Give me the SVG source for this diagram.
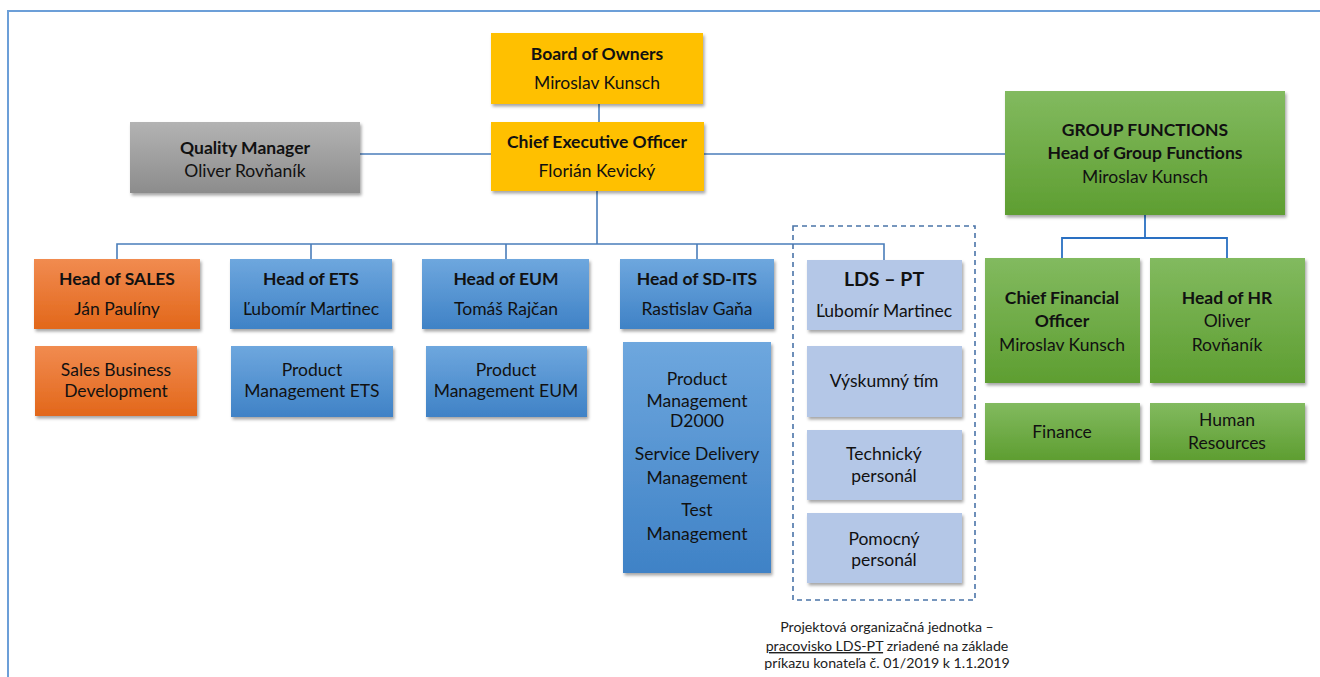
<svg xmlns="http://www.w3.org/2000/svg" width="1320" height="677" viewBox="0 0 1320 677">
<defs>
<linearGradient id="gGray" x1="0" y1="0" x2="0" y2="1"><stop offset="0" stop-color="#b3b3b3"/><stop offset="1" stop-color="#8c8c8c"/></linearGradient>
<linearGradient id="gOrange" x1="0" y1="0" x2="0" y2="1"><stop offset="0" stop-color="#f18b50"/><stop offset="1" stop-color="#e2671a"/></linearGradient>
<linearGradient id="gBlue" x1="0" y1="0" x2="0" y2="1"><stop offset="0" stop-color="#6ea7de"/><stop offset="1" stop-color="#3f82c6"/></linearGradient>
<linearGradient id="gGreen" x1="0" y1="0" x2="0" y2="1"><stop offset="0" stop-color="#82ba5f"/><stop offset="1" stop-color="#5e9e31"/></linearGradient>
<filter id="sh" x="-10%" y="-10%" width="125%" height="135%">
<feDropShadow dx="1.5" dy="2.5" stdDeviation="1.5" flood-color="#000" flood-opacity="0.35"/>
</filter>
</defs>
<style>
text{font-family:Lato,"Liberation Sans",sans-serif;font-size:17.5px;fill:#111;text-anchor:middle}
.b{font-weight:bold}
.box{filter:url(#sh)}
.yel{fill:#ffc000}
.gray{fill:url(#gGray)}
.org{fill:url(#gOrange)}
.blu{fill:url(#gBlue)}
.lb{fill:#b4c7e7}
.grn{fill:url(#gGreen)}
.con{stroke:#4a7dba;stroke-width:1.6;fill:none}
.con2{stroke:#2a70c2;stroke-width:1.8;fill:none}
.note{font-size:14.2px;fill:#222}
</style>
<rect width="1320" height="677" fill="#fff"/>
<g id="frame"><path d="M8 677 V11 H1320" stroke="#6c9fd8" stroke-width="2" fill="none"/></g>
<g id="connectors">
<line class="con" x1="599" y1="104" x2="599" y2="122"/>
<line class="con" x1="360" y1="154" x2="1005" y2="154"/>
<line class="con" x1="597" y1="191" x2="597" y2="244"/>
<path class="con" d="M117 259 V244 H884 V260"/>
<line class="con" x1="311" y1="244" x2="311" y2="259"/>
<line class="con" x1="506" y1="244" x2="506" y2="259"/>
<line class="con" x1="697" y1="244" x2="697" y2="259"/>
<line class="con2" x1="1145" y1="215" x2="1145" y2="238"/>
<path class="con2" d="M1062 258 V238 H1227 V258"/>
</g>
<g id="lds-frame"><rect x="793" y="226" width="182" height="374" fill="none" stroke="#4a74a8" stroke-width="1.6" stroke-dasharray="5,4"/></g>
<g id="board"><rect class="box yel" x="491" y="33" width="212" height="71"/><text class="b" x="597" y="60">Board of Owners</text><text x="597" y="89">Miroslav Kunsch</text></g>
<g id="ceo"><rect class="box yel" x="491" y="122" width="213" height="69"/><text class="b" x="597" y="148">Chief Executive Officer</text><text x="597" y="177">Florián Kevický</text></g>
<g id="qm"><rect class="box gray" x="130" y="122" width="230" height="71"/><text class="b" x="245" y="154">Quality Manager</text><text x="245" y="177">Oliver Rovňaník</text></g>
<g id="gf"><rect class="box grn" x="1005" y="91" width="280" height="124"/><text class="b" x="1145" y="136">GROUP FUNCTIONS</text><text class="b" x="1145" y="159">Head of Group Functions</text><text x="1145" y="183">Miroslav Kunsch</text></g>
<g id="sales"><rect class="box org" x="34" y="259" width="166" height="70"/><text class="b" x="117" y="285">Head of SALES</text><text x="117" y="315">Ján Paulíny</text></g>
<g id="sales-bd"><rect class="box org" x="35" y="346" width="162" height="70"/><text x="116" y="376">Sales Business</text><text x="116" y="397">Development</text></g>
<g id="ets"><rect class="box blu" x="230" y="259" width="162" height="70"/><text class="b" x="311" y="285">Head of ETS</text><text x="311" y="315">Ľubomír Martinec</text></g>
<g id="pm-ets"><rect class="box blu" x="231" y="346" width="162" height="71"/><text x="312" y="376">Product</text><text x="312" y="397">Management ETS</text></g>
<g id="eum"><rect class="box blu" x="422" y="259" width="167" height="70"/><text class="b" x="506" y="285">Head of EUM</text><text x="506" y="315">Tomáš Rajčan</text></g>
<g id="pm-eum"><rect class="box blu" x="426" y="346" width="161" height="71"/><text x="506" y="376">Product</text><text x="506" y="397">Management EUM</text></g>
<g id="sdits"><rect class="box blu" x="620" y="259" width="154" height="70"/><text class="b" x="697" y="285">Head of SD-ITS</text><text x="697" y="315">Rastislav Gaňa</text></g>
<g id="sdits-units"><rect class="box blu" x="623" y="342" width="148" height="231"/><text x="697" y="385">Product</text><text x="697" y="407">Management</text><text x="697" y="427">D2000</text><text x="697" y="460">Service Delivery</text><text x="697" y="484">Management</text><text x="697" y="516">Test</text><text x="697" y="540">Management</text></g>
<g id="lds"><rect class="box lb" x="807" y="260" width="155" height="70"/><text class="b" x="884" y="286" style="font-size:19.5px">LDS – PT</text><text x="884" y="317">Ľubomír Martinec</text></g>
<g id="vyskum"><rect class="box lb" x="807" y="346" width="155" height="71"/><text x="884" y="387">Výskumný tím</text></g>
<g id="tech"><rect class="box lb" x="807" y="430" width="155" height="70"/><text x="884" y="460">Technický</text><text x="884" y="482">personál</text></g>
<g id="pomoc"><rect class="box lb" x="807" y="513" width="155" height="70"/><text x="884" y="545">Pomocný</text><text x="884" y="566">personál</text></g>
<g id="cfo"><rect class="box grn" x="985" y="258" width="155" height="125"/><text class="b" x="1062" y="304">Chief Financial</text><text class="b" x="1062" y="327">Officer</text><text x="1062" y="351">Miroslav Kunsch</text></g>
<g id="hr"><rect class="box grn" x="1150" y="258" width="155" height="125"/><text class="b" x="1227" y="304">Head of HR</text><text x="1227" y="327">Oliver</text><text x="1227" y="351">Rovňaník</text></g>
<g id="finance"><rect class="box grn" x="985" y="403" width="155" height="57"/><text x="1062" y="438">Finance</text></g>
<g id="hres"><rect class="box grn" x="1150" y="403" width="155" height="57"/><text x="1227" y="426">Human</text><text x="1227" y="449">Resources</text></g>
<g id="note"><text class="note" x="887" y="632">Projektová organizačná jednotka –</text><text class="note" x="887" y="651"><tspan text-decoration="underline">pracovisko LDS-PT</tspan> zriadené na základe</text><text class="note" x="887" y="668">príkazu konateľa č. 01/2019 k 1.1.2019</text></g>
</svg>
